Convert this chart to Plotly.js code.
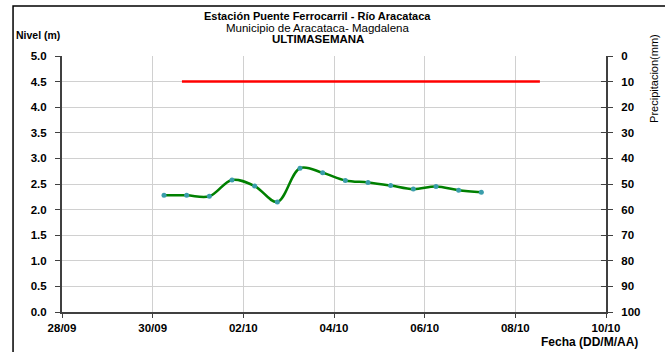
<!DOCTYPE html>
<html>
<head>
<meta charset="utf-8">
<script src="https://cdn.plot.ly/plotly-3.0.1.min.js"></script>
<style>html,body{margin:0;padding:0;background:#fff;}#chart{width:665px;height:352px;}</style>
</head>
<body>
<div id="chart"></div>
<script>
// Data
const fechas = ["2014-09-30 06:00","2014-09-30 18:00","2014-10-01 06:00","2014-10-01 18:00","2014-10-02 06:00","2014-10-02 18:00","2014-10-03 06:00","2014-10-03 18:00","2014-10-04 06:00","2014-10-04 18:00","2014-10-05 06:00","2014-10-05 18:00","2014-10-06 06:00","2014-10-06 18:00","2014-10-07 06:00"];
const nivel = [2.28, 2.28, 2.26, 2.58, 2.46, 2.15, 2.81, 2.72, 2.57, 2.53, 2.47, 2.40, 2.45, 2.38, 2.34];
const alertaFechas = ["2014-09-30 15:30", "2014-10-08 13:00"];
const alertaNivel = [4.5, 4.5];
const xTickVals = ["2014-09-28","2014-09-30","2014-10-02","2014-10-04","2014-10-06","2014-10-08","2014-10-10"];
const xTickText = ["28/09","30/09","02/10","04/10","06/10","08/10","10/10"];
const yTickVals = [0,0.5,1,1.5,2,2.5,3,3.5,4,4.5,5];
const yTickText = ["0.0","0.5","1.0","1.5","2.0","2.5","3.0","3.5","4.0","4.5","5.0"];
const precTickVals = [0,10,20,30,40,50,60,70,80,90,100];

const FONT = "Liberation Sans, Arial, sans-serif";
const tickFont = {family: FONT, size: 11.5, color: "#000", weight: "bold"};

const traces = [
  {x: alertaFechas, y: alertaNivel, type: "scatter", mode: "lines",
   line: {color: "#ff0000", width: 2.5}, hoverinfo: "skip", showlegend: false},
  {x: fechas, y: nivel, type: "scatter", mode: "lines+markers",
   line: {color: "#008000", width: 2.5, shape: "spline", smoothing: 1},
   marker: {color: "#3a9dab", size: 5}, showlegend: false},
  {x: [], y: [], yaxis: "y2", type: "scatter", mode: "lines", showlegend: false},
  {x: [], y: [], yaxis: "y3", type: "scatter", mode: "lines", showlegend: false}
];

const layout = {
  width: 665, height: 352,
  margin: {l: 62, r: 59, t: 56, b: 40},
  paper_bgcolor: "#fff", plot_bgcolor: "#fff",
  font: {family: FONT, color: "#000"},
  showlegend: false,
  xaxis: {type: "date", range: ["2014-09-28", "2014-10-10"],
    tickmode: "array", tickvals: xTickVals, ticktext: xTickText,
    tickfont: tickFont, ticks: "outside", ticklen: 4, tickcolor: "#404040",
    showgrid: true, gridcolor: "#d0d0d0", gridwidth: 1,
    showline: true, linecolor: "#404040", linewidth: 2, zeroline: false},
  yaxis: {range: [0, 5], tickmode: "array", tickvals: yTickVals, ticktext: yTickText,
    tickfont: tickFont, ticks: "outside", ticklen: 5, tickcolor: "#404040",
    ticklabelstandoff: 6,
    showgrid: true, gridcolor: "#d0d0d0", gridwidth: 1,
    showline: true, linecolor: "#404040", linewidth: 2, zeroline: false},
  yaxis2: {overlaying: "y", side: "right", range: [100, 0],
    tickmode: "array", tickvals: precTickVals,
    tickfont: tickFont, ticks: "outside", ticklen: 5, tickcolor: "#404040",
    ticklabelstandoff: 6,
    showgrid: false, showline: true, linecolor: "#404040", linewidth: 2, zeroline: false},
  yaxis3: {overlaying: "y", side: "right", range: [100, 0],
    tickmode: "array", tickvals: precTickVals, showticklabels: false,
    ticks: "inside", ticklen: 5, tickcolor: "#404040",
    showgrid: false, showline: false, zeroline: false},
  shapes: [
    {type: "rect", xref: "paper", yref: "paper", x0: -0.09, x1: 1.25, y0: -0.25, y1: 1.195,
     line: {color: "#000", width: 1.5}, fillcolor: "rgba(0,0,0,0)", layer: "below"}
  ],
  annotations: [
    {text: "<b>Estación Puente Ferrocarril - Río Aracataca</b>", xref: "paper", yref: "paper",
     x: 0.47, y: 1.156, xanchor: "center", yanchor: "middle", showarrow: false,
     font: {family: FONT, size: 11, color: "#000"}},
    {text: "Municipio de Aracataca- Magdalena", xref: "paper", yref: "paper",
     x: 0.47, y: 1.109, xanchor: "center", yanchor: "middle", showarrow: false,
     font: {family: FONT, size: 11.5, color: "#000"}},
    {text: "<b>ULTIMASEMANA</b>", xref: "paper", yref: "paper",
     x: 0.47, y: 1.066, xanchor: "center", yanchor: "middle", showarrow: false,
     font: {family: FONT, size: 11.5, color: "#000"}},
    {text: "<b>Nivel (m)</b>", xref: "paper", yref: "paper",
     x: -0.088, y: 1.082, xanchor: "left", yanchor: "middle", showarrow: false,
     font: {family: FONT, size: 10.5, color: "#000"}},
    {text: "Precipitacion(mm)", xref: "paper", yref: "paper", textangle: -90,
     x: 1.088, y: 0.914, xanchor: "center", yanchor: "middle", showarrow: false,
     font: {family: FONT, size: 11, color: "#000"}},
    {text: "<b>Fecha (DD/M/AA)</b>", xref: "paper", yref: "paper",
     x: 1.0625, y: -0.117, xanchor: "right", yanchor: "middle", showarrow: false,
     font: {family: FONT, size: 12, color: "#000"}}
  ]
};

Plotly.newPlot("chart", traces, layout, {displayModeBar: false, staticPlot: true});
</script>
</body>
</html>
